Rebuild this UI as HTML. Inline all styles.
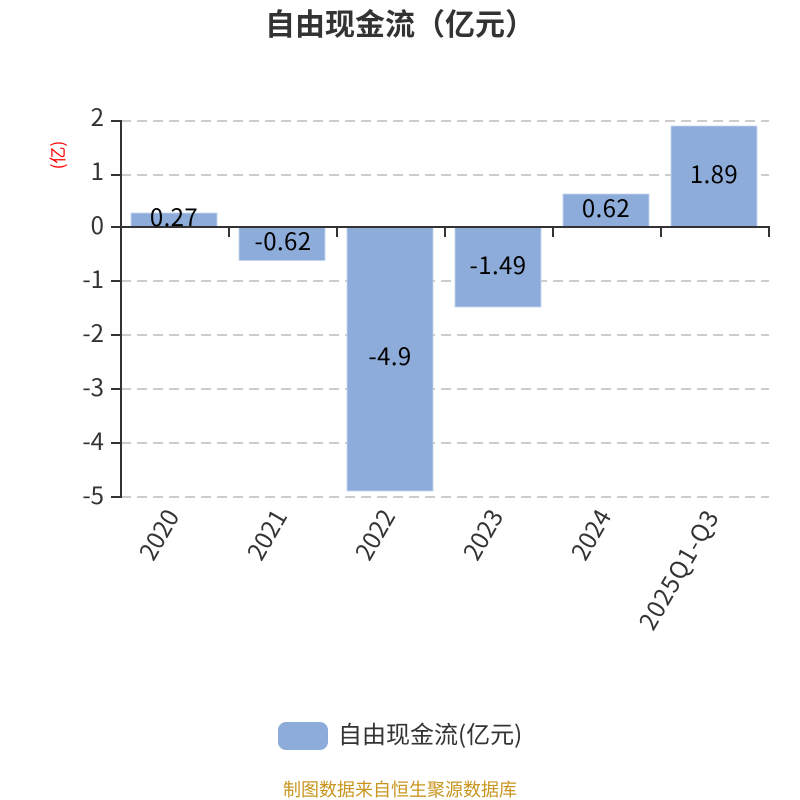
<!DOCTYPE html>
<html lang="zh"><head><meta charset="utf-8"><style>
html,body{margin:0;padding:0;background:#fff}
svg{display:block}
text{font-family:"Noto Sans CJK SC","Liberation Sans",sans-serif}
</style></head><body>
<svg width="800" height="800" viewBox="0 0 800 800" xmlns="http://www.w3.org/2000/svg">
<rect width="800" height="800" fill="#fff"/>
<text x="265" y="35" font-size="30" font-weight="bold" fill="#333">自由现金流（亿元）</text>
<g stroke="#ccc" stroke-width="2" stroke-dasharray="10 6">
<path d="M121 121H769M121 175H769M121 281H769M121 335H769M121 389H769M121 443H769M121 497H769"/>
</g>
<g fill="#8eacda" stroke="#c5d5ee" stroke-width="0.8">
<rect x="131" y="213" width="86" height="14"/>
<rect x="239" y="227" width="86" height="33.5"/>
<rect x="347" y="227" width="86" height="264"/>
<rect x="455" y="227" width="86" height="80"/>
<rect x="563" y="194" width="86" height="33"/>
<rect x="671" y="126" width="86" height="101"/>
</g>
<g stroke="#333" stroke-width="2" fill="none">
<path d="M121 120V498"/>
<path d="M111 121H121M111 175H121M111 227H121M111 281H121M111 335H121M111 389H121M111 443H121M111 497H121"/>
<path d="M121 227H770"/>
<path d="M229 227V237M337 227V237M445 227V237M553 227V237M661 227V237M769 227V237"/>
</g>
<g font-size="24" fill="#333" text-anchor="end">
<text x="104" y="126">2</text><text x="104" y="180">1</text><text x="104" y="234">0</text>
<text x="104" y="288">-1</text><text x="104" y="342">-2</text><text x="104" y="396">-3</text>
<text x="104" y="450">-4</text><text x="104" y="504">-5</text>
</g>
<text transform="translate(64 155) rotate(-90)" text-anchor="middle" font-size="17" fill="#f00">(亿)</text>
<g font-size="24" fill="#000" text-anchor="middle" letter-spacing="0.4">
<text x="174" y="226">0.27</text>
<text x="283" y="250">-0.62</text>
<text x="390" y="365">-4.9</text>
<text x="498" y="274">-1.49</text>
<text x="606" y="217">0.62</text>
<text x="714" y="183">1.89</text>
</g>
<g font-size="24" fill="#333" text-anchor="end">
<text transform="translate(180 516) rotate(-60)">2020</text>
<text transform="translate(288 516) rotate(-60)">2021</text>
<text transform="translate(396 516) rotate(-60)">2022</text>
<text transform="translate(504 516) rotate(-60)">2023</text>
<text transform="translate(612 516) rotate(-60)">2024</text>
<text transform="translate(720 516) rotate(-60)" letter-spacing="1.1">2025Q1-Q3</text>
</g>
<rect x="278" y="722" width="50" height="28" rx="8" fill="#8eacda"/>
<text x="338" y="743" font-size="24" fill="#333">自由现金流(亿元)</text>
<text x="400" y="796" text-anchor="middle" font-size="18" fill="#c8961e">制图数据来自恒生聚源数据库</text>
</svg>
</body></html>
